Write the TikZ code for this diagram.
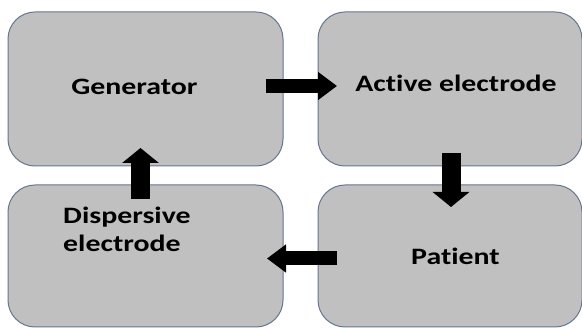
\documentclass[tikz,border=0pt]{standalone}
\usepackage{fontspec}
\newfontfamily\lblfont{Carlito}[FakeStretch=1.27,Ligatures={NoCommon}]
\usetikzlibrary{arrows.meta}
\definecolor{boxfill}{RGB}{192,192,192}
\definecolor{boxedge}{RGB}{100,118,145}
\tikzset{
  stage/.style={draw=boxedge, fill=boxfill, line width=1pt, rounded corners=27pt, inner sep=0pt},
  lbl/.style={font=\lblfont\bfseries\fontsize{23.5}{28}\selectfont, text=black, inner sep=0pt, anchor=base},
  harrow/.style={line width=14pt, -{Triangle[width=27pt,length=19pt]}},
  varrow/.style={line width=19pt, -{Triangle[width=36pt,length=15pt]}}
}
\begin{document}
\begin{tikzpicture}[x=1pt,y=-1pt]
\useasboundingbox (0,0) rectangle (582,328);
\fill[white] (0,0) rectangle (582,328);
% boxes
\node[stage, minimum width=275pt, minimum height=154pt] (gen) at (145.5,89) {};
\node[stage, minimum width=264pt, minimum height=154pt] (act) at (450,89) {};
\node[stage, minimum width=275pt, minimum height=142pt] (disp) at (145.5,256) {};
\node[stage, minimum width=264pt, minimum height=142pt] (pat) at (450,256) {};
% labels
\node[lbl] (tgen) at (134.5,95) {Generator};
\node[lbl] (tact) at (456,92) {Active electrode};
\node[lbl, anchor=base west, align=left] (tdisp) at (63,252) {Dispersive\\electrode};
\node[lbl] (tpat) at (455.5,265) {Patient};
% arrow end points
\coordinate (r1) at (266,86);
\coordinate (r2) at (337,86);
\coordinate (d1) at (451,153);
\coordinate (d2) at (451,207);
\coordinate (l1) at (337,258.5);
\coordinate (l2) at (267,258.5);
\coordinate (u1) at (140.5,199);
\coordinate (u2) at (140.5,148);
\draw[harrow] (r1) -- (r2);
\draw[varrow] (d1) -- (d2);
\draw[harrow] (l1) -- (l2);
\draw[varrow] (u1) -- (u2);
\end{tikzpicture}
\end{document}
